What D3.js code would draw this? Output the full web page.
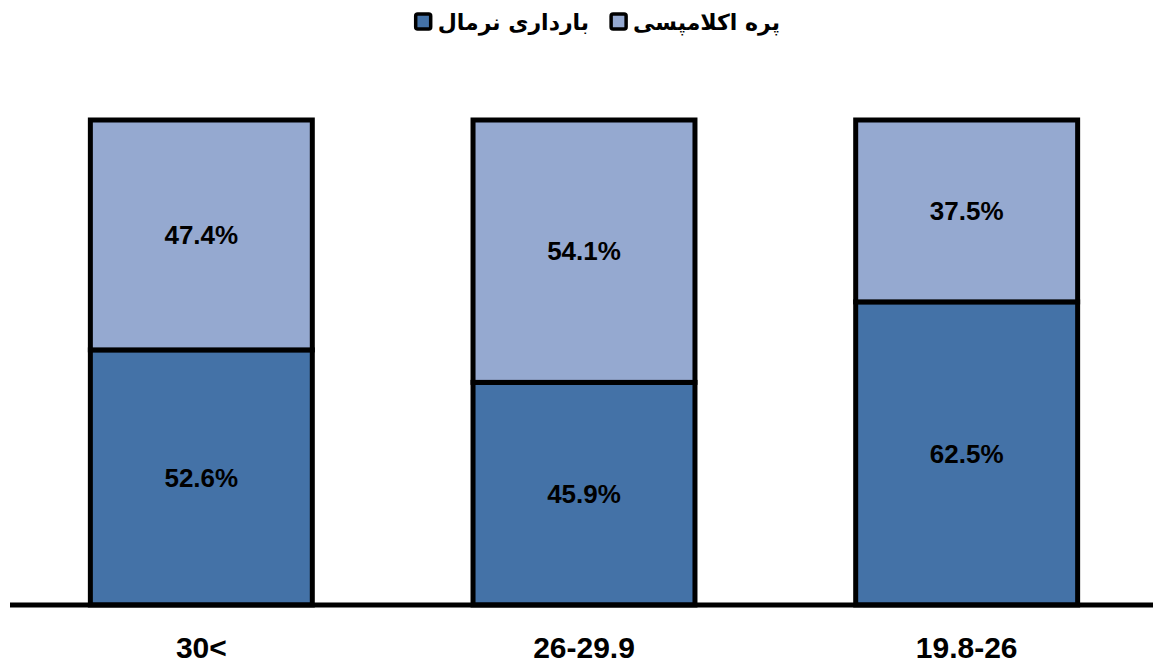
<!DOCTYPE html>
<html>
<head>
<meta charset="utf-8">
<script src="https://cdn.jsdelivr.net/npm/d3@7"></script>
<style>
  body { margin: 0; background: #fff; }
  svg { display: block; }
</style>
</head>
<body>
<div id="chart"></div>
<script>
// BMI groups, stacked share of normal pregnancy vs pre-eclampsia
const categories = ["30<", "26-29.9", "19.8-26"];
const normal = [52.6, 45.9, 62.5];
const preeclampsia = [47.4, 54.1, 37.5];
const seriesNames = ["بارداری نرمال", "پره اکلامپسی"];
const colors = ["#4472a7", "#95a9d0"];

const W = 1153, H = 664;
const svg = d3.select("#chart")
    .append("svg")
    .attr("width", W)
    .attr("height", H);

// Scales
const x = d3.scaleBand()
    .domain(categories)
    .range([10, 1158])
    .paddingInner(0.42)
    .paddingOuter(0.21);
const y = d3.scaleLinear()
    .domain([0, 100])
    .range([605, 120]);

const rows = categories.map((c, i) => ({cat: c, normal: normal[i], pre: preeclampsia[i]}));
const stack = d3.stack().keys(["normal", "pre"])(rows);

// Bars
stack.forEach((layer, li) => {
    svg.append("g")
        .selectAll("rect")
        .data(layer)
        .enter()
        .append("rect")
        .attr("x", d => x(d.data.cat))
        .attr("y", d => y(d[1]))
        .attr("width", x.bandwidth())
        .attr("height", d => y(d[0]) - y(d[1]))
        .attr("fill", colors[li])
        .attr("stroke", "#000")
        .attr("stroke-width", 5);

    svg.append("g")
        .selectAll("text")
        .data(layer)
        .enter()
        .append("text")
        .attr("x", d => x(d.data.cat) + x.bandwidth() / 2)
        .attr("y", d => (y(d[0]) + y(d[1])) / 2)
        .attr("dy", "0.35em")
        .attr("text-anchor", "middle")
        .style("font-family", "'Liberation Sans', Arial, sans-serif")
        .style("font-weight", "bold")
        .style("font-size", "26px")
        .text(d => (d[1] - d[0]).toFixed(1) + "%");
});

// Baseline axis
const axis = svg.append("g")
    .attr("transform", `translate(0,${y(0)})`)
    .call(d3.axisBottom(x).tickSize(0).tickPadding(32));
axis.select(".domain")
    .attr("d", `M10,0H${W}`)
    .attr("stroke", "#000")
    .attr("stroke-width", 5);
axis.selectAll("text")
    .style("font-family", "'Liberation Sans Narrow', 'Arial Narrow', sans-serif")
    .style("font-weight", "bold")
    .style("font-size", "30px")
    .attr("fill", "#000");

// Legend (right to left)
const legend = svg.append("g");
let cursor = 780;
[1, 0].forEach(si => {
    const t = legend.append("text")
        .attr("x", cursor)
        .attr("y", 22)
        .attr("dy", "0.35em")
        .attr("text-anchor", "start")
        .attr("direction", "rtl")
        .style("font-family", "'DejaVu Sans', sans-serif")
        .style("font-weight", "bold")
        .style("font-size", "22px")
        .text(seriesNames[si]);
    const tw = t.node().getComputedTextLength();
    const sx = cursor - tw - 22;
    legend.append("rect")
        .attr("x", sx)
        .attr("y", 14)
        .attr("width", 15)
        .attr("height", 15)
        .attr("rx", 2)
        .attr("fill", colors[si])
        .attr("stroke", "#000")
        .attr("stroke-width", 3.5);
    cursor = sx - 22;
});
</script>
</body>
</html>
